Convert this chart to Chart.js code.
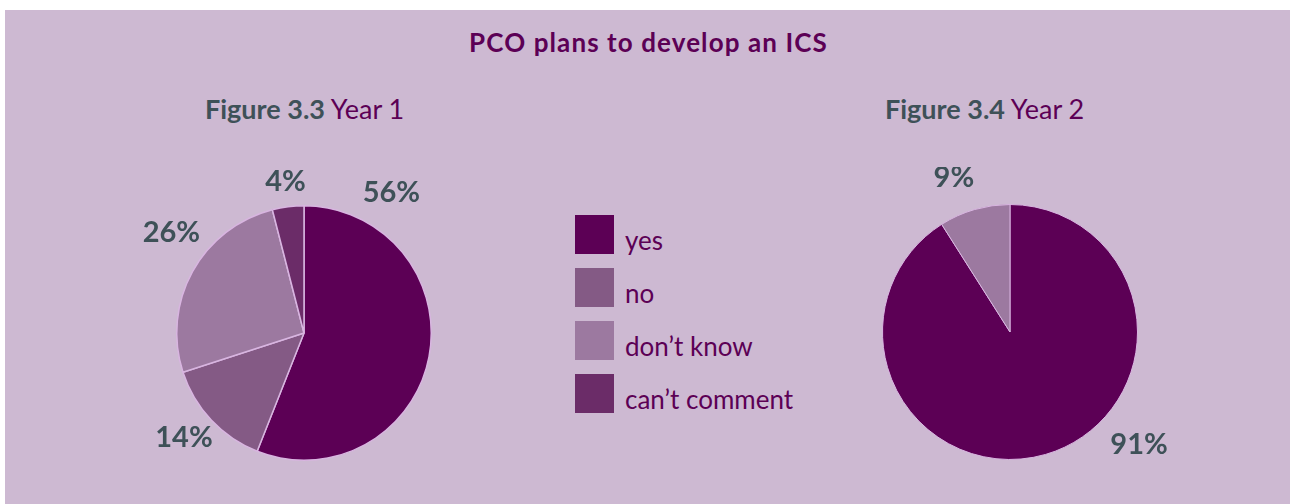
<!DOCTYPE html>
<html>
<head>
<meta charset="utf-8">
<script src="https://cdn.jsdelivr.net/npm/chart.js@4.4.0/dist/chart.umd.min.js"></script>
<style>
  body { margin: 0; background: #ffffff; width: 1290px; height: 504px; overflow: hidden; position: relative; font-family: Lato, sans-serif; }
  #panel { position: absolute; left: 5px; top: 10px; width: 1285px; height: 494px; background: #cdb9d2; }
  .abs { position: absolute; white-space: nowrap; }
  #title { left: 0; width: 1297px; top: 26px; text-align: center; font-weight: bold; font-size: 26px; letter-spacing: 1.1px; color: #5c0055; }
  .sub { font-size: 27px; color: #5c0055; top: 92px; }
  .sub b { color: #3e5158; }
  .pie { position: absolute; width: 400px; height: 330px; }
  .swatch { position: absolute; left: 575px; width: 39px; height: 39px; }
  .legtext { position: absolute; left: 625px; font-size: 26px; line-height: 26px; color: #5c0055; }
</style>
</head>
<body>
<div id="panel"></div>
<div id="title" class="abs">PCO plans to develop an ICS</div>
<div class="abs sub" style="left:205px"><b>Figure 3.3</b> Year 1</div>
<div class="abs sub" style="left:885px"><b>Figure 3.4</b> Year 2</div>
<div id="legend"></div>
<div class="pie" style="left:104px; top:168px"><canvas id="pieYear1"></canvas></div>
<div class="pie" style="left:810px; top:167px"><canvas id="pieYear2"></canvas></div>

<script>
'use strict';

// answers and percentages for each year
let categories = ['yes', 'no', 'don\u2019t know', 'can\u2019t comment'];
let year1 = [56, 14, 26, 4];
let year2 = [91, 0, 9, 0];

let sliceColors = ['#5c0055', '#845a85', '#9c79a0', '#6b2c68'];

// where each percentage sits: degrees clockwise from the top, distance from centre
let year1LabelAngle = [32, 229, 307, 353];
let year1LabelDist = [165, 159, 166, 152];
let year2LabelAngle = [131, 0, 340, 0];
let year2LabelDist = [171, 0, 164, 0];

// legend built from the categories
let legendEl = document.getElementById('legend');
for (let i = 0; i < categories.length; i++) {
    let sw = document.createElement('div');
    sw.className = 'swatch';
    sw.style.top = (215 + i * 53) + 'px';
    sw.style.background = sliceColors[i];
    legendEl.appendChild(sw);

    let tx = document.createElement('div');
    tx.className = 'legtext';
    tx.style.top = (227 + i * 53) + 'px';
    tx.textContent = categories[i];
    legendEl.appendChild(tx);
}

// draws the percentage next to each slice
let percentLabels = {
    id: 'percentLabels',
    afterDraw(chart, args, opts) {
        let ctx = chart.ctx;
        let meta = chart.getDatasetMeta(0);
        let values = chart.data.datasets[0].data;
        ctx.save();
        ctx.font = 'bold 29px Lato';
        ctx.fillStyle = '#3e5158';
        ctx.textAlign = 'center';
        ctx.textBaseline = 'middle';
        meta.data.forEach(function (arc, i) {
            if (!values[i]) return;
            let a = opts.angles[i] * Math.PI / 180;
            let x = arc.x + Math.sin(a) * opts.dists[i];
            let y = arc.y - Math.cos(a) * opts.dists[i];
            ctx.fillText(values[i] + '%', x, y);
        });
        ctx.restore();
    }
};

function pieRender(canvasId, values, angles, dists, border) {
    let ctx = document.getElementById(canvasId).getContext('2d');
    return new Chart(ctx, {
        type: 'pie',
        data: {
            labels: categories,
            datasets: [{
                data: values,
                backgroundColor: sliceColors,
                borderColor: '#d8b5e0',
                borderWidth: border
            }]
        },
        options: {
            responsive: true,
            maintainAspectRatio: false,
            animation: false,
            layout: { padding: { left: 72, right: 72, top: 37, bottom: 37 } },
            plugins: {
                legend: { display: false },
                tooltip: { enabled: false },
                percentLabels: { angles: angles, dists: dists }
            }
        },
        plugins: [percentLabels]
    });
}

pieRender('pieYear1', year1, year1LabelAngle, year1LabelDist, 1.5);
pieRender('pieYear2', year2, year2LabelAngle, year2LabelDist, 1);
</script>
</body>
</html>
